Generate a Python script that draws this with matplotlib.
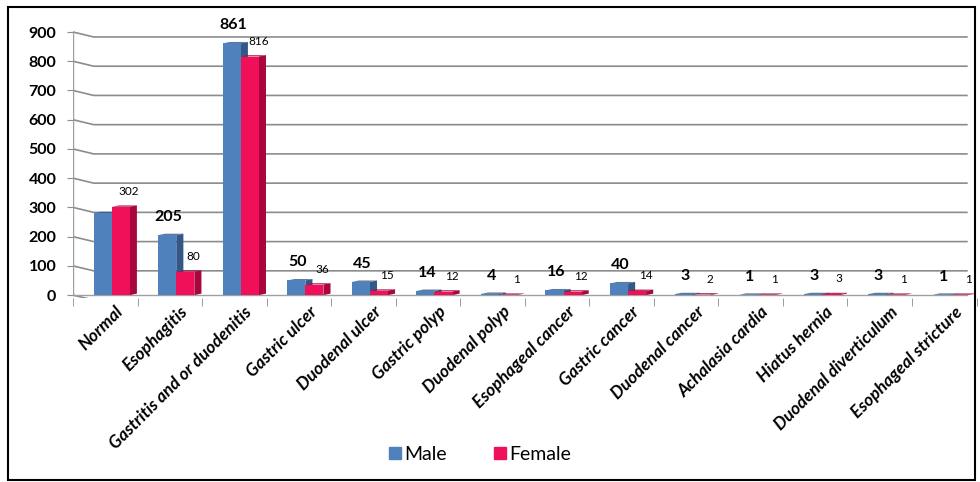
import matplotlib.pyplot as plt
import numpy as np
from matplotlib.patches import Polygon, Rectangle
from matplotlib.lines import Line2D

categories = ["Normal", "Esophagitis", "Gastritis and or duodenitis", "Gastric ulcer",
              "Duodenal ulcer", "Gastric polyp", "Duodenal polyp", "Esophageal cancer",
              "Gastric cancer", "Duodenal cancer", "Achalasia cardia", "Hiatus hernia",
              "Duodenal diverticulum", "Esophageal stricture"]
male = [280, 205, 861, 50, 45, 14, 4, 16, 40, 3, 1, 3, 3, 1]
female = [302, 80, 816, 36, 15, 12, 1, 12, 14, 2, 1, 3, 1, 1]
# Normal/male has no label in the original
male_labels = ["", "205", "861", "50", "45", "14", "4", "16", "40", "3", "1", "3", "3", "1"]
female_labels = ["302", "80", "816", "36", "15", "12", "1", "12", "14", "2", "1", "3", "1", "1"]
yticks = list(range(0, 1000, 100))

plt.rcParams['font.family'] = ['Lato', 'DejaVu Sans']

fig = plt.figure(figsize=(9.8, 4.82), dpi=100)
ax = fig.add_axes([0.0745, 0.3817, 0.922, 0.561])
xmin, xmax = -0.5, 13.35
ax.set_xlim(xmin, xmax)
ax.set_ylim(-10, 915)

# 3D-ish back wall grid lines
for v in yticks:
    ax.plot([xmin, xmin + 0.32, xmax], [v, v - 17, v - 17], color="#8c8c8c", lw=1.2, zorder=1)
ax.plot([xmin, xmin], [0, 900], color="#a0a0a0", lw=1.0, zorder=1)
ax.plot([xmin, xmax], [0, 0], color="#a0a0a0", lw=1.0, zorder=1)

x = np.arange(len(categories))
off = 0.1
w = 0.28
dx, dy = 0.11, 5
male_c, male_s = "#4F81BD", "#34578A"
fem_c, fem_s = "#F0105A", "#A8063C"

def bar3d(x0, h, front, side):
    ax.add_patch(Polygon([[x0 + w, 0], [x0 + w + dx, dy], [x0 + w + dx, h + dy], [x0 + w, h]],
                         closed=True, facecolor=side, edgecolor="none", zorder=3))
    ax.add_patch(Polygon([[x0, h], [x0 + dx, h + dy], [x0 + w + dx, h + dy], [x0 + w, h]],
                         closed=True, facecolor=side, edgecolor="none", alpha=0.8, zorder=3))
    ax.add_patch(Rectangle((x0, 0), w, h, facecolor=front, edgecolor="none", zorder=4))

for i in range(len(categories)):
    bar3d(x[i] + off - w, male[i], male_c, male_s)
    bar3d(x[i] + off, female[i], fem_c, fem_s)
    ax.annotate(male_labels[i], (x[i] + off - w / 2, male[i]), xytext=(1, 13),
                textcoords="offset points", ha="center", va="center",
                fontsize=11.5, fontweight="bold", zorder=6)
    ax.annotate(female_labels[i], (x[i] + off + w / 2 + 0.13, female[i]), xytext=(0, 11),
                textcoords="offset points", ha="center", va="center",
                fontsize=8.5, zorder=6)

for s in ax.spines.values():
    s.set_visible(False)

ax.set_yticks(yticks)
ax.set_yticklabels([str(v) for v in yticks], fontsize=11.5, fontweight="bold")
ax.tick_params(axis="y", length=4, color="#8c8c8c", pad=8)

# category boundary ticks
ax.set_xticks(np.arange(len(categories) + 1) - 0.5, minor=True)
ax.tick_params(axis="x", which="minor", length=6, color="#8c8c8c", direction="out")
ax.set_xticks(x + 0.15)
ax.set_xticklabels(categories, rotation=45, ha="right", rotation_mode="anchor",
                   fontsize=12.5, fontweight="bold", fontstyle="italic")
ax.tick_params(axis="x", which="major", length=0, pad=4)

handles = [Line2D([], [], marker="s", ls="none", color=male_c, markersize=8),
           Line2D([], [], marker="s", ls="none", color=fem_c, markersize=8)]
fig.legend(handles, ["Male", "Female"], loc="center", bbox_to_anchor=(0.488, 0.058),
           ncol=2, frameon=False, fontsize=14, handletextpad=0.0, columnspacing=2.2,
           handlelength=1.0)

fig.add_artist(Rectangle((0.008, 0.004), 0.987, 0.981, transform=fig.transFigure,
                         fill=False, edgecolor="black", lw=1.5))

fig.savefig("out.png", dpi=100)
